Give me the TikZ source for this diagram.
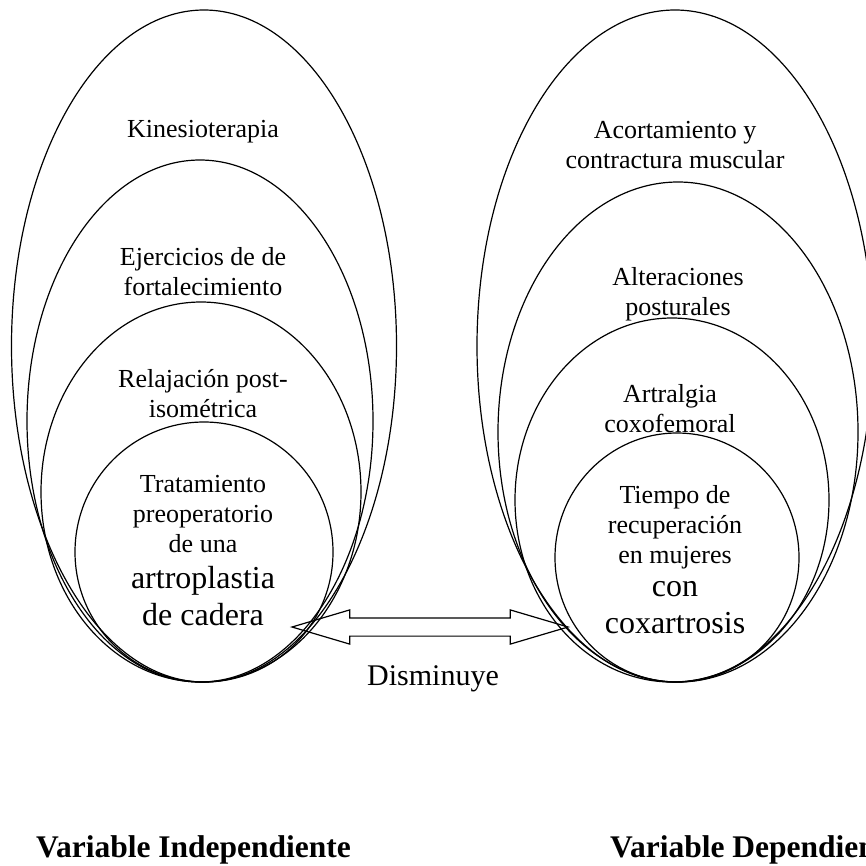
\documentclass[tikz,border=0pt]{standalone}
\usepackage{fontspec}
\setmainfont{Liberation Serif}
\usetikzlibrary{shapes.geometric, shapes.arrows, positioning}

\begin{document}
\begin{tikzpicture}[x=1pt, y=-1pt,
    oval/.style={draw, ellipse, line width=1.2pt, inner sep=0pt},
    txt/.style={align=center, font=\fontsize{26}{30}\selectfont, anchor=base, inner sep=0pt},
    bigtxt/.style={align=center, font=\fontsize{32}{37}\selectfont, anchor=base, inner sep=0pt},
    varname/.style={font=\bfseries\fontsize{31.5}{34}\selectfont, anchor=base west, inner sep=0pt}]

    \useasboundingbox (0,0) rectangle (866,865);

    % independent side
    \node[oval, minimum width=385pt, minimum height=672pt] (L1) at (204,346) {};
    \node[oval, minimum width=346pt, minimum height=522pt] (L2) at (200,421) {};
    \node[oval, minimum width=320pt, minimum height=380pt] (L3) at (201,492) {};
    \node[oval, minimum width=258pt, minimum height=260pt] (L4) at (204,552) {};

    \node[txt] (kine) at (203,137) {Kinesioterapia};
    \node[txt] (ejer) at (203,295) {Ejercicios de de\\fortalecimiento};
    \node[txt] (rela) at (203,417) {Relajación post-\\isométrica};
    \node[txt] (trat) at (203,552) {Tratamiento\\preoperatorio\\de una};
    \node[bigtxt] (artr) at (203,625) {artroplastia\\de cadera};

    % dependent side
    \node[oval, minimum width=396pt, minimum height=672pt] (R1) at (675,346) {};
    \node[oval, minimum width=360pt, minimum height=500pt] (R2) at (678,432) {};
    \node[oval, minimum width=314pt, minimum height=364pt] (R3) at (672,500) {};
    \node[oval, minimum width=244pt, minimum height=249pt] (R4) at (677,557.5) {};

    \node[txt] (acor) at (675,168) {Acortamiento y\\contractura muscular};
    \node[txt] (alte) at (678,315) {Alteraciones\\posturales};
    \node[txt] (artg) at (670,432) {Artralgia\\coxofemoral};
    \node[txt] (tiem) at (675,563) {Tiempo de\\recuperación\\en mujeres};
    \node[bigtxt] (coxa) at (675,633) {con\\coxartrosis};

    % relation
    \node[draw, double arrow, line width=1.2pt, inner sep=8.5pt,
        double arrow head extend=8pt, double arrow tip angle=33,
        minimum height=276pt] (rel) at (430,627) {};
    \node[font=\fontsize{30}{34}\selectfont, anchor=base, inner sep=0pt] (dism) at (433,685) {Disminuye};

    \node[varname] (vind) at (36,857) {Variable Independiente};
    \node[varname] (vdep) at (610,857) {Variable Dependiente};

\end{tikzpicture}
\end{document}
